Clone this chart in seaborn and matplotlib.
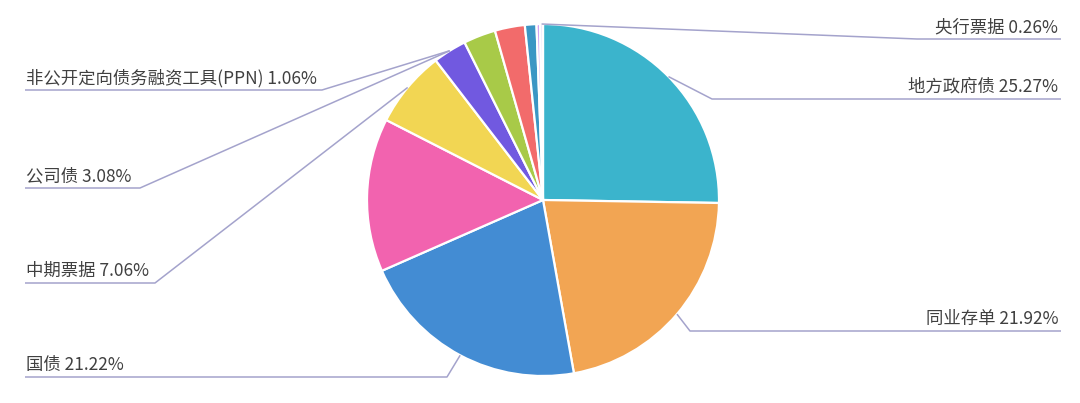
import numpy as np
import matplotlib
matplotlib.use("Agg")
import matplotlib.pyplot as plt
import seaborn as sns

# slices, clockwise from 12 o'clock ("" = label not shown in the chart)
names = ["地方政府债", "同业存单", "国债", "", "中期票据", "公司债", "", "",
         "非公开定向债务融资工具(PPN)", "", "央行票据"]
shares = [25.27, 21.92, 21.22, 14.10, 7.06, 3.08, 2.95, 2.75, 1.06, 0.33, 0.26]
colors = ["#3bb4cc", "#f2a553", "#438cd3", "#f263af", "#f2d653", "#7159e0",
          "#a8ca48", "#f26b6b", "#3b96c4", "#d3a3f3", "#e6ddf7"]

# label layout (image pixels): underline y, elbow x, side, optional anchor angle
label_layout = {
    "央行票据": (39, 917, "right", None),
    "地方政府债": (99, 712, "right", None),
    "同业存单": (331, 690, "right", None),
    "非公开定向债务融资工具(PPN)": (90, 322, "left", 122.0),
    "公司债": (188, 140, "left", None),
    "中期票据": (283, 155, "left", None),
    "国债": (377, 447, "left", None),
}

W, H = 1080, 403
CX, CY, R = 543, 200, 176
LEFT_X, RIGHT_X = 25, 1061
LINE_COLOR = "#a4a3cc"
TEXT_COLOR = "#404040"

sns.set_theme(style="white")
plt.rcParams["font.family"] = ["Noto Sans CJK SC", "DejaVu Sans"]

fig = plt.figure(figsize=(W / 100, H / 100), dpi=100)
ax = fig.add_axes([0, 0, 1, 1])


def fy(y):
    # image y (top-down) -> axes y (bottom-up)
    return H - y


wedges, _ = ax.pie(shares, colors=colors, startangle=90, counterclock=False,
                   center=(CX, fy(CY)), radius=R, frame=True,
                   wedgeprops=dict(edgecolor="white", linewidth=1.6))
ax.set_xlim(0, W)
ax.set_ylim(0, H)
ax.set_aspect("equal")
ax.axis("off")

for name, w in zip(names, wedges):
    if not name:
        continue
    uy, ex, side, ang = label_layout[name]
    if ang is None:
        ang = (w.theta1 + w.theta2) / 2
    t = np.deg2rad(ang)
    px, py = CX + R * np.cos(t), fy(CY) + R * np.sin(t)
    pct = shares[names.index(name)]
    end_x = RIGHT_X if side == "right" else LEFT_X
    ax.plot([px, ex, end_x], [py, fy(uy), fy(uy)], color=LINE_COLOR,
            lw=1.1, solid_capstyle="butt", zorder=1)
    if side == "right":
        ax.text(RIGHT_X - 3, fy(uy) + 3, f"{name} {pct:.2f}%", ha="right",
                va="bottom", fontsize=12.5, color=TEXT_COLOR)
    else:
        ax.text(LEFT_X + 1, fy(uy) + 3, f"{name} {pct:.2f}%", ha="left",
                va="bottom", fontsize=12.5, color=TEXT_COLOR)

fig.savefig("out.png", dpi=100, facecolor="white")
